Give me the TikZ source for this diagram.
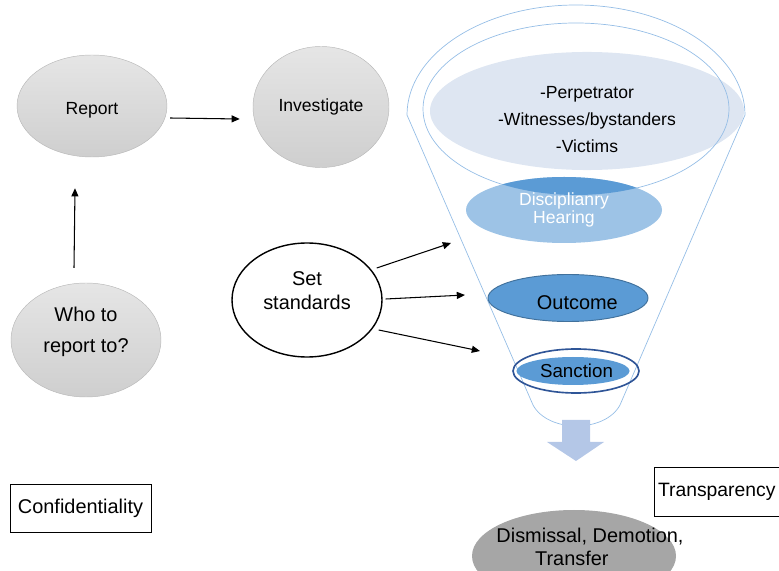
\documentclass[tikz,border=0pt]{standalone}
\usepackage{fontspec}
\setmainfont{Liberation Sans}
\usetikzlibrary{shapes.geometric,arrows.meta}
\definecolor{funnelblue}{RGB}{150,190,230}
\definecolor{perpfill}{RGB}{222,230,242}
\definecolor{hlight}{RGB}{157,195,230}
\definecolor{hdark}{RGB}{91,155,213}
\definecolor{outblue}{RGB}{65,113,156}
\definecolor{sancring}{RGB}{47,85,151}
\definecolor{arrowblue}{RGB}{180,199,231}
\definecolor{dismissgray}{RGB}{166,166,166}
\tikzset{
  ball/.style={ellipse,draw=gray!55,line width=0.4pt,top color=gray!20,bottom color=gray!38,inner sep=0pt,align=center,font=\fontsize{15}{22}\selectfont},
  plainball/.style={ellipse,draw=black,line width=1.2pt,inner sep=0pt,align=center,font=\fontsize{17}{21}\selectfont},
  funnel/.style={draw=funnelblue,line width=0.6pt},
  blueball/.style={ellipse,inner sep=0pt,align=center,font=\fontsize{15}{16}\selectfont},
  labelbox/.style={rectangle,draw=black,line width=0.6pt,inner sep=0pt,font=\fontsize{17}{20}\selectfont},
  arr/.style={-{Triangle[length=7pt,width=6pt]},line width=0.9pt}
}
\begin{document}
\begin{tikzpicture}[x=0.03cm,y=-0.03cm]
\useasboundingbox (0,0) rectangle (779,571);
\clip (0,0) rectangle (779,571);
\node[ball,minimum width=4.5cm,minimum height=3.06cm] (report) at (92,106) {\strut\\[-19pt]Report};
\node[ball,minimum width=4.08cm,minimum height=3.63cm] (invest) at (321,107) {Investigate};
\node[ball,minimum width=4.5cm,minimum height=3.42cm,font=\fontsize{17}{26}\selectfont] (who) at (86,340) {Who to\\report to?\\[-16pt]\strut};
\node[plainball,minimum width=4.5cm,minimum height=3.42cm] (setstd) at (307,300) {Set\\standards\\[-11pt]\strut};
\node[blueball,fill=perpfill,minimum width=9.42cm,minimum height=3.54cm,font=\fontsize{15}{23}\selectfont] (perp) at (587,111) {\strut\\[-14pt]-Perpetrator\\-Witnesses/bystanders\\-Victims};
\draw[funnel] (745,115) arc[start angle=0,end angle=-180,x radius=169,y radius=110] -- (533,405) .. controls (548,433) and (605,433) .. (620,405) -- cycle;
\draw[funnel] (576,109) ellipse[x radius=153,y radius=86];
\node[blueball,fill=hlight,text=white,minimum width=5.88cm,minimum height=1.98cm,
  path picture={\fill[hdark] ([shift={(12,-101)}]path picture bounding box.center) ellipse[x radius=153,y radius=86];}] (hearing) at (564,210) {Disciplianry\\Hearing};
\node[blueball,fill=hdark,draw=outblue,line width=0.8pt,minimum width=4.8cm,minimum height=1.41cm,font=\fontsize{17}{20}\selectfont] (outcome) at (568,298) {\strut\\[-14pt]\hspace*{16pt}Outcome};
\node[ellipse,draw=sancring,line width=1.4pt,minimum width=3.78cm,minimum height=1.32cm] (sancring) at (576,371) {};
\node[blueball,fill=hdark,minimum width=3.36cm,minimum height=0.84cm,font=\fontsize{16}{18}\selectfont] (sanction) at (573,371) {\hspace*{6pt}Sanction};
\fill[arrowblue] (562,420) -- (590,420) -- (590,442) -- (604,442) -- (576,461) -- (547,442) -- (562,442) -- cycle;
\node[ellipse,fill=dismissgray,inner sep=0pt,minimum width=6.12cm,minimum height=2.76cm] (dismiss) at (574,556) {};
\node[align=center,inner sep=0pt,font=\fontsize{17}{19}\selectfont] (dismisslbl) at (590,547) {Dismissal, Demotion,\\\hspace*{-31pt}Transfer};
\node[labelbox,minimum width=4.23cm,minimum height=1.44cm] (confid) at (80.5,508) {Confidentiality};
\node[labelbox,minimum width=4.14cm,minimum height=1.47cm,text width=3.9cm,font=\fontsize{16.5}{20}\selectfont] (transp) at (723,491.5) {Transparency};
\draw[arr] ([shift={(3,12)}]report.east) -- ([shift={(-13,12)}]invest.west);
\draw[arr] ([shift={(-12,-15)}]who.north) -- ([shift={(-17,31)}]report.south);
\coordinate (tohear) at (451,243);
\coordinate (toout) at (465,295);
\coordinate (tosanc) at (480,351);
\draw[arr] ([shift={(-6,-32)}]setstd.east) -- (tohear);
\draw[arr] ([shift={(3,-1)}]setstd.east) -- (toout);
\draw[arr] ([shift={(-4,30)}]setstd.east) -- (tosanc);
\end{tikzpicture}
\end{document}
